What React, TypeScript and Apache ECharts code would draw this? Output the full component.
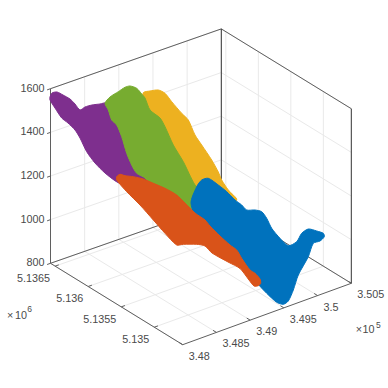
import React, { useEffect, useRef } from "react";
import * as echarts from "echarts";

// Tick values of the 3D box
const eastingTicks = [348000, 348500, 349000, 349500, 350000, 350500];
const eastingLabels = ["3.48", "3.485", "3.49", "3.495", "3.5", "3.505"];
const northingTicks = [5136500, 5136000, 5135500, 5135000];
const northingLabels = ["5.1365", "5.136", "5.1355", "5.135"];
const elevationTicks = [800, 1000, 1200, 1400, 1600];
const elevationLabels = ["800", "1000", "1200", "1400", "1600"];

// The four clusters as seen in the picture's view plane (view x, view y)
const purpleCluster = [
  [50, 97], [52, 93], [57, 92], [63, 95], [70, 99], [75, 104], [80, 110], [85, 107], [92, 105], [100, 104], [107, 103],
  [125, 125], [150, 170], [160, 195], [135, 190], [117, 182], [105, 173], [95, 163], [86.7, 151.7], [80, 138], [75, 130],
  [68, 123], [61.7, 118], [55, 108], [50, 100],
];
const yellowCluster = [
  [143.3, 92.7], [150, 91], [158.3, 90], [165, 93.3], [171.7, 101.7], [181.7, 113.3], [188.3, 120], [195, 135], [201.7, 145],
  [211.7, 160], [218.3, 172], [221.7, 180], [228.3, 190], [236.7, 200], [220, 210], [195, 195], [160, 125], [143, 105],
];
const greenCluster = [
  [105, 103.3], [110, 97], [118.3, 91.7], [125, 87.3], [130, 86], [136.7, 88.3], [141.7, 94], [145, 98], [150, 110], [160, 118],
  [165, 126.7], [173.3, 145], [183.3, 161.7], [195, 185], [205, 195], [200, 225], [170, 205], [145, 178], [136.7, 173.3],
  [131.7, 165], [126.7, 153.3], [121.7, 136.7], [116.7, 125], [111.7, 120], [108.3, 110],
];
const blueCluster = [
  [191, 203.3], [196.7, 186.7], [201.7, 180], [208.3, 178.3], [218.3, 185], [226.7, 191.7], [235, 200], [241.7, 205],
  [246.7, 210], [255, 210], [261.7, 211.7], [266.7, 218.3], [271.7, 228.3], [280, 238.3], [288.3, 245.7], [296.7, 241.7],
  [301.7, 233.3], [308.3, 229], [316.7, 231], [323.3, 233.3], [324.3, 236.7], [320, 241], [313.3, 243.3], [308.3, 256.7],
  [298.3, 275], [293.3, 290], [288.3, 301], [283.3, 304.3], [276.7, 302.3], [266.7, 293.3], [258, 284], [240, 262], [200, 225],
];
const orangeCluster = [
  [116.7, 176.7], [120, 174.3], [125, 175.7], [133.3, 176.7], [143.3, 179], [153.3, 183.3], [165, 188.3], [176.7, 195],
  [185, 203], [195, 213], [205, 220], [210, 226], [220, 236], [230, 245], [236.7, 250], [241.7, 258.3], [250, 270], [255, 273.3],
  [260, 279], [260.7, 283.3], [258.3, 285.7], [254, 286], [249, 280], [240, 268.5], [229, 262.5], [212, 253], [205, 246],
  [196.7, 244.3], [183.3, 244.3], [176.7, 245], [165, 233.3], [153.3, 220], [140, 205], [126.7, 191.7], [116.7, 180],
];

const clusters: [string, number[][], string][] = [
  ["purple", purpleCluster, "#7E2F8E"],
  ["yellow", yellowCluster, "#EDB120"],
  ["green", greenCluster, "#77AC30"],
  ["blue", blueCluster, "#0072BD"],
  ["orange", orangeCluster, "#D95319"],
];

const eastMin = 348000, eastMax = 350500, northMax = 5136570, northMin = 5134570, zMin = 800, zMax = 1600;

// Box corners in the view plane: left, back, front, right; and their heights
const cLeft = [50.5, 263.3], cBack = [221.3, 203.5], cFront = [182.7, 344.7], cRight = [351.3, 283.3];

function project(e: number, n: number, z: number): number[] {
  const a = (e - eastMin) / (eastMax - eastMin);
  const t = (northMax - n) / (northMax - northMin);
  const mix = (i: number) =>
    (1 - a) * (1 - t) * cLeft[i] + a * (1 - t) * cBack[i] + (1 - a) * t * cFront[i] + a * t * cRight[i];
  return [mix(0), mix(1) - ((z - zMin) / (zMax - zMin)) * 174.6];
}

const seg = (p: number[], q: number[]) => [p[0], p[1], q[0], q[1]];

function gridSegments() {
  const out: number[][] = [];
  for (const e of eastingTicks) {
    out.push(seg(project(e, northMax, zMin), project(e, northMax, zMax)));
    out.push(seg(project(e, northMax, zMin), project(e, northMin, zMin)));
  }
  for (const n of northingTicks) {
    out.push(seg(project(eastMax, n, zMin), project(eastMax, n, zMax)));
    out.push(seg(project(eastMin, n, zMin), project(eastMax, n, zMin)));
  }
  for (const z of elevationTicks) {
    out.push(seg(project(eastMin, northMax, z), project(eastMax, northMax, z)));
    out.push(seg(project(eastMax, northMax, z), project(eastMax, northMin, z)));
  }
  return out;
}

function boxSegments() {
  const L0 = project(eastMin, northMax, zMin), L1 = project(eastMin, northMax, zMax);
  const B0 = project(eastMax, northMax, zMin), B1 = project(eastMax, northMax, zMax);
  const R0 = project(eastMax, northMin, zMin), R1 = project(eastMax, northMin, zMax);
  const F0 = project(eastMin, northMin, zMin);
  const out = [seg(L1, B1), seg(B1, R1), seg(L0, B0), seg(B0, R0), seg(L0, F0), seg(F0, R0), seg(L0, L1)];
  for (const e of eastingTicks) {
    const p = project(e, northMin, zMin);
    out.push(seg(p, [p[0] - 3.4, p[1] - 2.1]));
  }
  for (const n of northingTicks) {
    const p = project(eastMin, n, zMin);
    out.push(seg(p, [p[0] + 3.7, p[1] - 1.3]));
  }
  for (const z of elevationTicks) {
    const p = project(eastMin, northMax, z);
    out.push(seg(p, [p[0] - 3.4, p[1] + 1.2]));
  }
  return out;
}

function darkEdges() {
  return [
    seg(project(eastMax, northMax, zMin), project(eastMax, northMax, zMax)),
    seg(project(eastMax, northMin, zMin), project(eastMax, northMin, zMax)),
  ];
}

const FONT = "'Liberation Sans', Arial, sans-serif";
const TEXT_COLOR = "#4a4a4a";
const FONT_SIZE = 10.8;

type Lab = { p: number[]; text: string; align: string; size?: number };

function labels(): Lab[] {
  const out: Lab[] = [];
  eastingTicks.forEach((e, i) => {
    const p = project(e, northMin, zMin);
    out.push({ p: [p[0] + 6, p[1] + 11], text: eastingLabels[i], align: "left" });
  });
  northingTicks.forEach((n, i) => {
    const p = project(eastMin, n, zMin);
    out.push({ p: [p[0] - 5, p[1] + 12], text: northingLabels[i], align: "right" });
  });
  elevationTicks.forEach((z, i) => {
    const p = project(eastMin, northMax, z);
    out.push({ p: [p[0] - 6, p[1] - 1], text: elevationLabels[i], align: "right" });
  });
  // Offset (exponent) labels
  out.push({ p: [10.2, 314.7], text: "×", align: "center" });
  out.push({ p: [21, 314.7], text: "10", align: "center" });
  out.push({ p: [29.5, 309], text: "6", align: "center", size: 8.5 });
  out.push({ p: [358.8, 329], text: "×", align: "center" });
  out.push({ p: [368.5, 329], text: "10", align: "center" });
  out.push({ p: [378.3, 324.7], text: "5", align: "center", size: 8.5 });
  return out;
}

const lineSeries = (name: string, data: number[][], stroke: string, width: number) => ({
  type: "custom",
  name,
  silent: true,
  data,
  z: 1,
  renderItem: (_: any, api: any) => {
    const a = api.coord([api.value(0), api.value(1)]);
    const b = api.coord([api.value(2), api.value(3)]);
    return {
      type: "line",
      shape: { x1: a[0], y1: a[1], x2: b[0], y2: b[1] },
      style: { stroke, lineWidth: width, fill: null },
    };
  },
});

export default function App() {
  const ref = useRef<HTMLDivElement>(null);
  useEffect(() => {
    const chart = echarts.init(ref.current!, undefined, { renderer: "svg" });
    const labs = labels();
    chart.setOption({
      animation: false,
      backgroundColor: "#ffffff",
      grid: { left: 0, right: 0, top: 0, bottom: 0 },
      xAxis: { type: "value", min: 0, max: 388, show: false },
      yAxis: { type: "value", min: 0, max: 388, inverse: true, show: false },
      series: [
        lineSeries("grid", gridSegments(), "#e9e9e9", 1),
        lineSeries("box", boxSegments(), "#5f5f5f", 1),
        lineSeries("edges", darkEdges(), "#333333", 1),
        ...clusters.map(([name, outline, color]) => ({
          type: "custom",
          name,
          silent: true,
          z: 3,
          data: outline,
          renderItem: (params: any, api: any) => {
            if (params.dataIndex !== 0) return null;
            return {
              type: "polygon",
              shape: { points: outline.map((v) => api.coord(v)), smooth: 0.25 },
              style: { fill: color, stroke: color, lineWidth: 1 },
            };
          },
        })),
        {
          type: "custom",
          name: "labels",
          silent: true,
          z: 4,
          data: labs.map((l) => l.p),
          renderItem: (params: any, api: any) => {
            const l = labs[params.dataIndex];
            const c = api.coord(l.p);
            return {
              type: "text",
              x: c[0],
              y: c[1],
              style: {
                text: l.text,
                fill: TEXT_COLOR,
                font: `${l.size ?? FONT_SIZE}px ${FONT}`,
                align: l.align,
                verticalAlign: "middle",
              },
            };
          },
        },
      ],
    });
    return () => chart.dispose();
  }, []);
  return <div ref={ref} style={{ position: "absolute", left: 0, top: 0, width: 388, height: 388 }} />;
}
